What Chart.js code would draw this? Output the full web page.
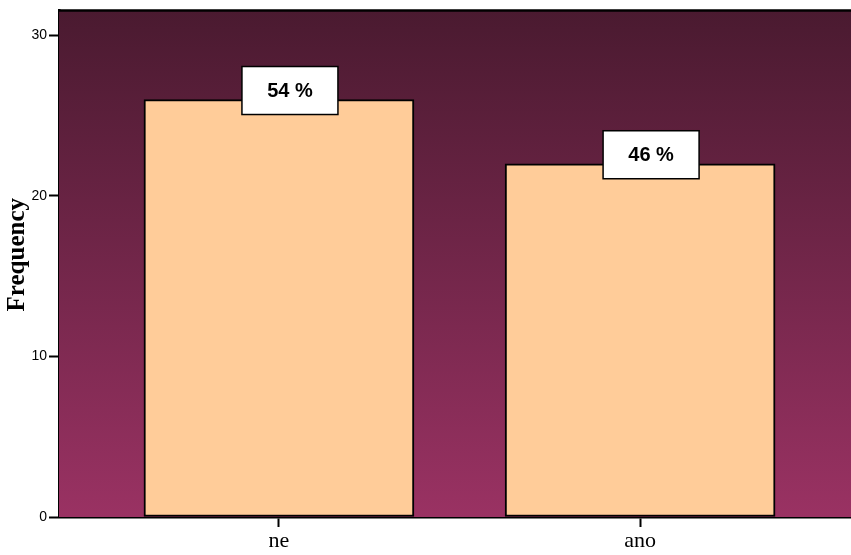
<!DOCTYPE html>
<html>
<head>
<meta charset="utf-8">
<script src="https://cdn.jsdelivr.net/npm/chart.js@4.4.1/dist/chart.umd.min.js"></script>
<style>
  html, body { margin: 0; padding: 0; background: #ffffff; }
  #wrap { width: 851px; height: 555px; }
</style>
</head>
<body>
<div id="wrap"><canvas id="chart" width="851" height="555"></canvas></div>
<script>
// Answer categories and their frequencies
const categories = ['ne', 'ano'];
const frequencies = [26, 22];
const yTicks = [0, 10, 20, 30];
const yAxisTitle = 'Frequency';

const total = frequencies.reduce((a, b) => a + b, 0);
const percentLabels = frequencies.map(v => Math.round(v / total * 100) + ' %');

// Plot background: vertical gradient, dark at top, lighter magenta at bottom
const backgroundPlugin = {
  id: 'plotBackground',
  beforeDatasetsDraw(chart) {
    const { ctx, chartArea: a } = chart;
    const g = ctx.createLinearGradient(0, a.top, 0, a.bottom);
    g.addColorStop(0, '#4a1a30');
    g.addColorStop(1, '#9a3263');
    ctx.save();
    ctx.fillStyle = g;
    ctx.fillRect(a.left, a.top, a.right - a.left, a.bottom - a.top);
    ctx.strokeStyle = '#000';
    ctx.lineWidth = 2.5;
    ctx.beginPath();
    ctx.moveTo(a.left, a.top);
    ctx.lineTo(a.right, a.top);
    ctx.stroke();
    ctx.restore();
  }
};

// Boxed percentage labels sitting on top of each bar
const percentBoxPlugin = {
  id: 'percentBoxes',
  afterDatasetsDraw(chart) {
    const { ctx } = chart;
    const meta = chart.getDatasetMeta(0);
    ctx.save();
    meta.data.forEach((bar, i) => {
      const cx = bar.x + 11;
      const cy = bar.y - 9;
      const w = 96, h = 48;
      ctx.fillStyle = '#ffffff';
      ctx.fillRect(cx - w / 2, cy - h / 2, w, h);
      ctx.strokeStyle = '#000';
      ctx.lineWidth = 1.5;
      ctx.strokeRect(cx - w / 2, cy - h / 2, w, h);
      ctx.fillStyle = '#000';
      ctx.font = 'bold 20px "Liberation Sans", Arial, sans-serif';
      ctx.textAlign = 'center';
      ctx.textBaseline = 'middle';
      ctx.fillText(percentLabels[i], cx, cy + 1);
    });
    ctx.restore();
  }
};

// Rotated y-axis title, drawn a little above the middle of the axis
const yTitlePlugin = {
  id: 'yTitle',
  afterDraw(chart) {
    const { ctx, chartArea: a } = chart;
    ctx.save();
    ctx.translate(18, (a.top + a.bottom) / 2 - 9);
    ctx.rotate(-Math.PI / 2);
    ctx.fillStyle = '#000';
    ctx.font = 'bold 25px "Liberation Serif", "Times New Roman", serif';
    ctx.textAlign = 'center';
    ctx.textBaseline = 'middle';
    ctx.fillText(yAxisTitle, 0, 0);
    ctx.restore();
  }
};

new Chart(document.getElementById('chart'), {
  type: 'bar',
  data: {
    datasets: [{
      data: frequencies.map((v, i) => ({ x: i, y: v })),
      backgroundColor: '#ffcc99',
      borderColor: '#000000',
      borderWidth: 2,
      borderSkipped: false,
      barThickness: 270
    }]
  },
  options: {
    responsive: false,
    devicePixelRatio: 1,
    animation: false,
    layout: { padding: { top: 9, right: 0, left: 0, bottom: 0 } },
    plugins: {
      legend: { display: false },
      tooltip: { enabled: false }
    },
    scales: {
      x: {
        type: 'linear',
        offset: false,
        min: -0.609,
        max: 1.584,
        afterBuildTicks(scale) {
          scale.ticks = categories.map((_, i) => ({ value: i }));
        },
        afterFit(scale) { scale.height = 38; },
        ticks: {
          autoSkip: false,
          maxRotation: 0,
          padding: 1,
          color: '#000',
          font: { family: '"Liberation Serif", "Times New Roman", serif', size: 22 },
          callback: (v) => categories[v]
        },
        grid: {
          offset: false,
          drawOnChartArea: false,
          drawTicks: true,
          tickLength: 10,
          tickColor: '#000',
          tickWidth: 2
        },
        border: { display: true, color: '#000', width: 2.5 }
      },
      y: {
        min: 0,
        max: 31.55,
        afterBuildTicks(scale) {
          scale.ticks = yTicks.map(v => ({ value: v }));
        },
        afterFit(scale) { scale.width = 59; },
        ticks: {
          color: '#000',
          padding: 2,
          font: { family: '"Liberation Sans", Arial, sans-serif', size: 14 }
        },
        grid: {
          drawOnChartArea: false,
          drawTicks: true,
          tickLength: 10,
          tickColor: '#000',
          tickWidth: 2
        },
        border: { display: true, color: '#000', width: 2.5 },
        title: { display: false }
      }
    }
  },
  plugins: [backgroundPlugin, percentBoxPlugin, yTitlePlugin]
});
</script>
</body>
</html>
